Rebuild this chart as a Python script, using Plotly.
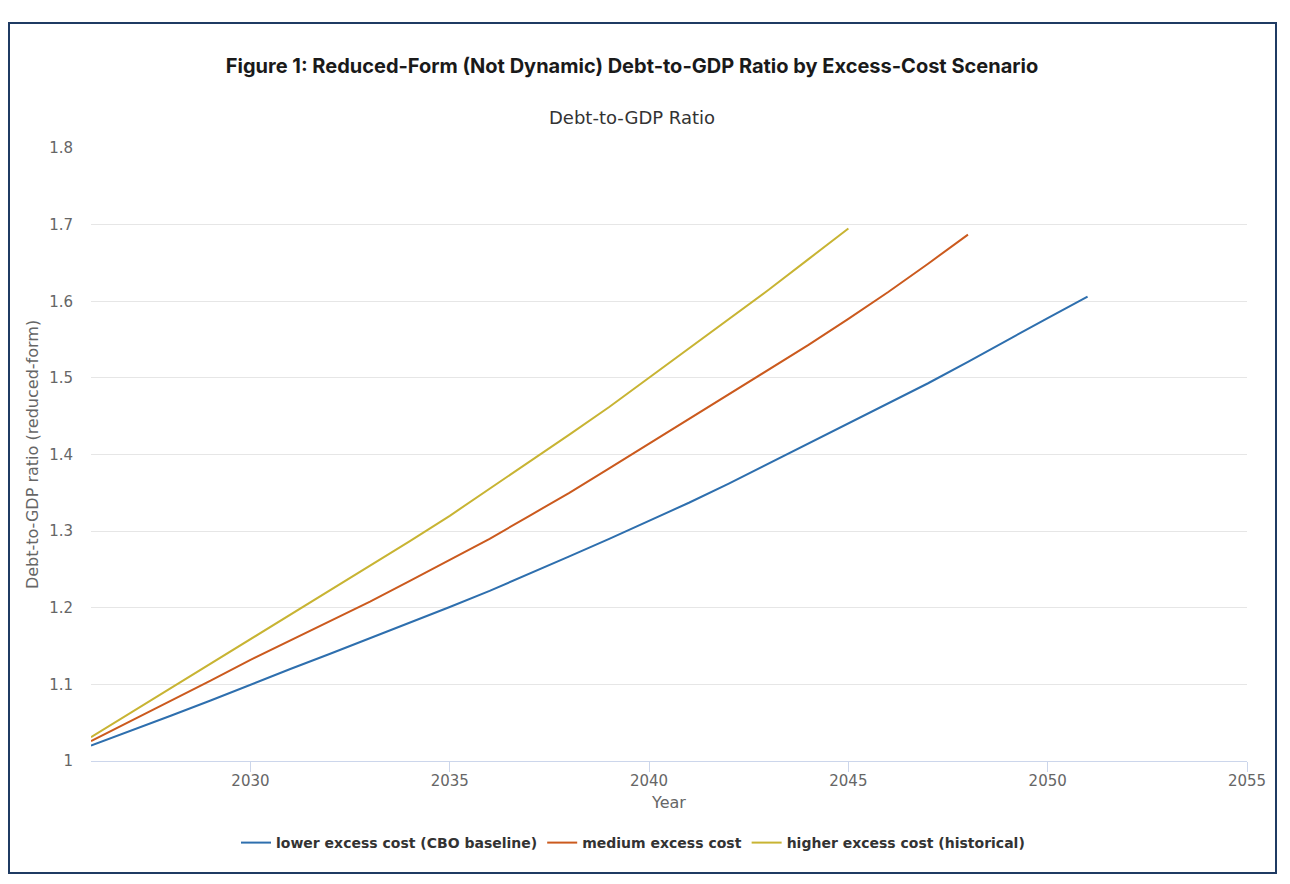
import plotly.graph_objects as go

years_low = list(range(2026, 2052))
low = [1.020, 1.039, 1.059, 1.079, 1.100, 1.120, 1.140, 1.160, 1.180, 1.201,
       1.222, 1.244, 1.267, 1.290, 1.313, 1.337, 1.362, 1.388, 1.414, 1.441,
       1.467, 1.493, 1.521, 1.550, 1.578, 1.606]

years_med = list(range(2026, 2049))
med = [1.026, 1.052, 1.079, 1.105, 1.132, 1.157, 1.183, 1.208, 1.235, 1.262,
       1.290, 1.320, 1.350, 1.382, 1.414, 1.446, 1.478, 1.510, 1.543, 1.577,
       1.612, 1.649, 1.687]

years_high = list(range(2026, 2046))
high = [1.031, 1.063, 1.095, 1.127, 1.159, 1.191, 1.222, 1.254, 1.287, 1.320,
        1.355, 1.390, 1.426, 1.462, 1.500, 1.538, 1.576, 1.615, 1.655, 1.695]

names = ["lower excess cost (CBO baseline)", "medium excess cost", "higher excess cost (historical)"]
colors = ["#2e6fae", "#cb5a1e", "#c8b433"]

x_ticks = [2030, 2035, 2040, 2045, 2050, 2055]
y_ticks = [1, 1.1, 1.2, 1.3, 1.4, 1.5, 1.6, 1.7, 1.8]

fig = go.Figure()
for xs, ys, n, c in zip([years_low, years_med, years_high], [low, med, high], names, colors):
    fig.add_trace(go.Scatter(x=xs, y=ys, name=n, mode="lines",
                             line=dict(color=c, width=2)))

# page has an 8px body margin; work in reference pixels minus 8
OFF = 8
W, H = 1290 - OFF, 884 - OFF
L, R, T, B = 91 - OFF, 1247 - OFF, 148 - OFF, 761 - OFF
pw, ph = R - L, B - T

def px(x):
    return (x - OFF - L) / pw

def py(y):
    return (B - (y - OFF)) / ph

fig.update_layout(
    width=W, height=H,
    margin=dict(l=L, r=W - R, t=T, b=H - B),
    paper_bgcolor="white", plot_bgcolor="white",
    font=dict(family="DejaVu Sans", color="#666666"),
    title=dict(text="<b>Figure 1: Reduced-Form (Not Dynamic) Debt-to-GDP Ratio by Excess-Cost Scenario</b>",
               font=dict(family="Inter", size=20, color="#1a1a1a"),
               xref="container", yref="container", x=(632 - OFF) / W, y=1 - (66 - OFF) / H,
               xanchor="center", yanchor="middle"),
    xaxis=dict(range=[2026, 2055], tickvals=x_ticks, showgrid=False, zeroline=False,
               showline=True, linecolor="#ccd6eb", linewidth=1,
               ticks="outside", ticklen=10, tickcolor="#ccd6eb",
               ticklabelstandoff=-4,
               tickfont=dict(size=15, color="#666666"),
               title=dict(text="Year", font=dict(size=16, color="#666666"), standoff=7)),
    yaxis=dict(range=[1, 1.8], tickvals=y_ticks, showgrid=True, gridcolor="#e6e6e6",
               gridwidth=1, zeroline=False, showline=False,
               tickfont=dict(size=15, color="#666666"), ticks="", ticklabelstandoff=17,
               title=dict(text="Debt-to-GDP ratio (reduced-form)",
                          font=dict(size=16, color="#666666"), standoff=6)),
    legend=dict(orientation="h", x=px(633), y=py(843), xanchor="center", yanchor="middle",
                font=dict(size=14, color="#333333", weight="bold"),
                itemwidth=30, tracegroupgap=0),
    showlegend=True,
    hovermode=False,
)

fig.add_annotation(text="Debt-to-GDP Ratio", xref="paper", yref="paper",
                   x=px(632), y=py(118), xanchor="center", yanchor="middle",
                   showarrow=False, font=dict(size=18, color="#333333"))

fig.add_shape(type="rect", xref="paper", yref="paper",
              x0=px(9), x1=px(1276), y0=py(873), y1=py(23),
              line=dict(color="#1f3b63", width=2), fillcolor="rgba(0,0,0,0)", layer="below")

fig.write_html("out.html")
